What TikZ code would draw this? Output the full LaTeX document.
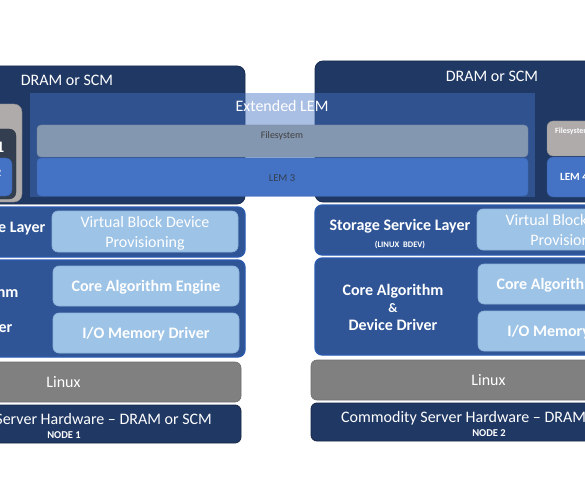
\documentclass[tikz,border=0pt]{standalone}
\usepackage{fontspec}
\setmainfont{Carlito}
\usepackage{xcolor}
\usepackage{tikz}
\usetikzlibrary{positioning}
\definecolor{navy}{HTML}{203864}
\definecolor{layerblue}{HTML}{2F5597}
\definecolor{layeredge}{HTML}{2A5AB0}
\definecolor{lightbox}{HTML}{9DC3E6}
\definecolor{lemblue}{HTML}{4472C4}
\definecolor{fsgray}{HTML}{8497B0}
\definecolor{linuxgray}{HTML}{808080}
\definecolor{boxgray}{HTML}{AFABAB}
\definecolor{slate}{HTML}{333F50}
\begin{document}
\begin{tikzpicture}[x=1pt,y=-1pt,
		memory/.style={fill=navy,draw=navy!80!black,line width=0.8pt,rounded corners=8pt},
		layer/.style={fill=layerblue,draw=layeredge,line width=1.2pt,rounded corners=7pt},
		inner/.style={fill=lightbox,draw=lightbox!85!layerblue,line width=0.6pt,rounded corners=6pt,
			text=white,align=center,inner sep=0pt,text depth=0pt},
		lbl/.style={text=white,font=\fontsize{16}{20}\selectfont,align=center,inner sep=0pt},
		blbl/.style={text=white,font=\fontsize{16}{17.5}\selectfont\bfseries,align=center,inner sep=0pt},
		tiny/.style={text=white,font=\fontsize{8.5}{9}\selectfont\bfseries,inner sep=0pt}]
	\useasboundingbox (0,0) rectangle (585,478);
	\clip (0,0) rectangle (585,478);
	\fill[white] (0,0) rectangle (585,478);
	% memory of both nodes
	\draw[memory] (-110,66) rectangle (245,204);
	\draw[memory] (315,61) rectangle (670,202);
	\node[lbl] (mem1) at (67,80.5) {DRAM or SCM};
	\node[lbl] (mem2) at (492,76.5) {DRAM or SCM};
	% left node, local LEM
	\draw[fill=boxgray,draw=boxgray!80!black,rounded corners=8pt] (-60,104) rectangle (22,202);
	\draw[fill=slate,draw=slate!80!black,rounded corners=7pt] (-55,129) rectangle (16,199);
	\draw[fill=lemblue,draw=lemblue!80!black,rounded corners=6pt] (-50,158) rectangle (12,196);
	\node[blbl,anchor=east] (lem1) at (4.5,147) {LEM 1};
	\node[blbl,anchor=east,font=\fontsize{11}{12}\selectfont\bfseries] (lem2) at (1.5,173) {LEM 2};
	% right node, local LEM
	\draw[fill=boxgray,draw=boxgray!80!black,rounded corners=6pt] (547,121) rectangle (640,156);
	\draw[fill=lemblue,draw=lemblue!80!black,rounded corners=6pt] (547,157) rectangle (640,197);
	\node[tiny,font=\fontsize{8}{9}\selectfont\bfseries,anchor=west] (fs4) at (555,131) {Filesystem};
	\node[blbl,font=\fontsize{11}{12}\selectfont\bfseries,anchor=west] (lem4) at (560,177) {LEM 4};
	% extended LEM across both nodes
	\fill[lemblue,opacity=0.45] (30,93) rectangle (535,197);
	\node[lbl] (ext) at (282,106) {Extended LEM};
	\draw[fill=fsgray,draw=fsgray!90!black,rounded corners=4pt] (37,125) rectangle (528,157);
	\draw[fill=lemblue,draw=lemblue!90!black,rounded corners=4pt] (37,158) rectangle (528,196);
	\node[text=black!75,font=\fontsize{10}{11}\selectfont,inner sep=0pt] (fs3) at (282,136) {Filesystem};
	\node[text=slate,font=\fontsize{10.5}{11}\selectfont,inner sep=0pt] (lem3) at (282,178.5) {LEM 3};
	% the two stacks
	\foreach \s/\dx/\dy in {1/0/0,2/425/-2}{
		\begin{scope}[shift={(\dx,\dy)}]
			\draw[layer] (-110,207) rectangle (245,257);
			\node[blbl] (ssl\s) at (-25,228) {Storage Service Layer};
			\node[tiny] (bdev\s) at (-25,246.5) {(LINUX\ \ BDEV)};
			\node[inner,lbl,minimum width=186pt,minimum height=41pt] (vbd\s) at (145,231.5) {Virtual Block Device\\Provisioning};
			\draw[layer] (-110,260) rectangle (245,357);
			\node[blbl] (cad\s) at (-32,309) {Core Algorithm\\{\fontsize{13}{14}\selectfont\&}\\Device Driver};
			\node[inner,blbl,minimum width=186pt,minimum height=40pt] (cae\s) at (146,286) {Core Algorithm Engine};
			\node[inner,blbl,minimum width=186pt,minimum height=40pt] (iom\s) at (146,333) {I/O Memory Driver};
			\node[fill=linuxgray,draw=linuxgray!85!black,line width=0.6pt,rounded corners=6pt,lbl,text depth=0pt,
				minimum width=355pt,minimum height=40pt] (linux\s) at (63.5,382) {Linux};
			\draw[fill=navy,draw=navy!70!black,line width=0.8pt,rounded corners=6pt] (-114,405) rectangle (241,443);
			\node[lbl] (hw\s) at (64,420) {Commodity Server Hardware -- DRAM or SCM};
			\node[tiny,font=\fontsize{10.5}{11}\selectfont\bfseries] (nd\s) at (64,435.5) {NODE \s};
		\end{scope}
	}
\end{tikzpicture}
\end{document}
